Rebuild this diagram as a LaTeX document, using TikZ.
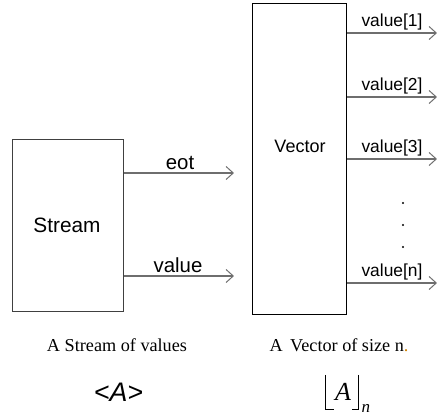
\documentclass[tikz,border=0pt]{standalone}
\usepackage{fontspec}
\setmainfont{Liberation Serif}
\setsansfont{Liberation Sans}
\usetikzlibrary{arrows.meta}
\definecolor{linegray}{HTML}{6E6E6E}
\definecolor{boxgray}{HTML}{404040}
\definecolor{dotorange}{HTML}{D08000}
\tikzset{
  blockbox/.style={draw, line width=0.6pt, inner sep=0pt, anchor=north west},
  outarrow/.style={draw=linegray, line width=0.6pt,
    -{Straight Barb[length=3.6pt,width=6.5pt,line width=0.5pt]}},
  portlabel/.style={font=\sffamily\fontsize{10.2}{12}\selectfont, inner sep=0pt},
  vlabel/.style={font=\sffamily\fontsize{8.7}{10}\selectfont, inner sep=0pt},
  caption/.style={font=\rmfamily\fontsize{9.1}{11}\selectfont, inner sep=0pt},
}
\begin{document}
\begin{tikzpicture}[x=0.5pt, y=-0.5pt]
  \useasboundingbox (0,0) rectangle (441,415);

  % Stream block with its two outputs
  \node[blockbox, draw=boxgray, minimum width=55.5pt, minimum height=86pt] (stream) at (12,139) {};
  \node[font=\sffamily\fontsize{10.4}{12}\selectfont] at (67,225) {Stream};
  \coordinate (eotend) at (234,173);
  \coordinate (valend) at (234,276);
  \draw[outarrow] (stream.east |- eotend) -- (eotend);
  \draw[outarrow] (stream.east |- valend) -- (valend);
  \node[portlabel] (eot) at (180,163) {eot};
  \node[portlabel] (val) at (178,265) {value};

  % Vector block with its n outputs
  \node[blockbox, minimum width=47pt, minimum height=155.5pt] (vector) at (252,3) {};
  \node[font=\sffamily\fontsize{9}{11}\selectfont] at (300,146) {Vector};
  \foreach \yy/\lab in {33/1, 97/2, 159/3, 283/n} {
    \coordinate (v\lab) at (437,\yy);
    \draw[outarrow] (vector.east |- v\lab) -- (v\lab);
    \node[vlabel] (lab\lab) at (392,\yy-11) {value[\lab]};
  }
  \foreach \yy in {203,225,247}
    \fill (403,\yy) circle (0.6pt);

  % Captions
  \node[caption] (capS) at (117,345) {A Stream of values};
  \node[caption] (capV) at (339,345) {A\, Vector of size n\textcolor{dotorange}{.}};

  % Notations
  \node[font=\sffamily\itshape\fontsize{13.4}{15}\selectfont] (notS) at (118.5,392) {<A>};
  \node[font=\rmfamily\itshape\fontsize{13}{15}\selectfont, inner sep=0pt] (notA) at (343,392) {A};
  \draw[line width=0.5pt] (326,375) -- (326,410) -- (334,410);
  \draw[line width=0.5pt] (359,375) -- (359,410) -- (352,410);
  \node[font=\rmfamily\itshape\fontsize{8.5}{10}\selectfont, inner sep=0pt] (notn) at (366,409) {n};
\end{tikzpicture}
\end{document}
